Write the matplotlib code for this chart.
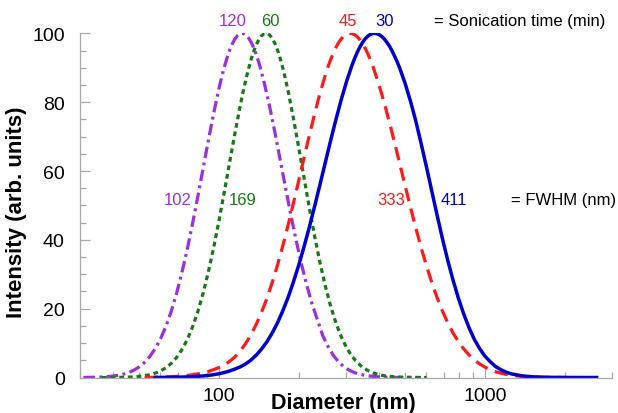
import matplotlib
matplotlib.use("Agg")
import matplotlib.pyplot as plt
from matplotlib.ticker import FixedLocator, LogLocator, NullFormatter, FuncFormatter, MultipleLocator

plt.rcParams['font.family'] = ['Liberation Sans', 'DejaVu Sans']

# ---- 120 min sonication (purple) ----
d_120 = [30.90, 31.62, 33.11, 34.67, 36.31, 38.02, 39.81, 41.69, 43.65, 45.71, 47.86, 50.12,
         52.48, 54.95, 57.54, 60.26, 63.10, 66.07, 69.18, 72.44, 75.86, 79.43,
         83.18, 87.10, 91.20, 95.50, 100.0,
         102.3, 104.7, 107.2, 109.6, 112.2, 114.8, 117.5, 120.2, 123.0, 125.9,
         128.8, 131.8, 134.9, 138.0, 141.3, 144.5, 147.9,
         154.9, 162.2, 169.8, 177.8, 186.2, 195.0, 204.2, 213.8, 223.9, 234.4,
         245.5, 257.0, 269.2, 281.8, 295.1, 309.0, 323.6, 338.8, 354.8, 371.5,
         389.0, 407.4, 426.6, 446.7, 467.7, 501.2, 575.4]
i_120 = [0.02, 0.03, 0.06, 0.10, 0.16, 0.26, 0.41, 0.63, 0.97, 1.45, 2.14, 3.10,
         4.39, 6.12, 8.37, 11.24, 14.81, 19.15, 24.34, 30.31, 37.08, 44.53,
         52.47, 60.70, 68.92, 76.80, 84.02,
         87.27, 90.22, 92.84, 95.09, 96.95, 98.38, 99.37, 99.90, 99.97, 99.60,
         98.78, 97.54, 95.88, 93.84, 91.43, 88.69, 85.64,
         78.81, 71.26, 63.28, 55.21, 47.32, 39.84, 32.95, 26.78, 21.37, 16.76,
         12.2, 9.0, 6.4, 4.5, 3.1, 2.1, 1.4, 0.95, 0.6, 0.4,
         0.25, 0.15, 0.1, 0.05, 0.03, 0.01, 0]

# ---- 60 min sonication (green) ----
d_60 = [36.31, 38.02, 39.81, 41.69, 43.65, 45.71, 47.86, 50.12, 52.48, 54.95, 57.54, 60.26,
        63.10, 66.07, 69.18, 72.44, 75.86, 79.43, 83.18, 87.10, 91.20, 95.50, 100.0,
        104.7, 109.6, 114.8, 120.2,
        123.0, 125.9, 128.8, 131.8, 134.9, 138.0, 141.3, 144.5, 147.9, 151.4, 154.9,
        158.5, 162.2, 166.0, 169.8, 173.8, 177.8, 182.0,
        190.5, 199.5, 208.9, 218.8, 229.1, 239.9, 251.2, 263.0, 275.4, 288.4, 302.0,
        316.2, 331.1, 346.7, 363.1, 380.2, 398.1, 416.9, 436.5, 457.1, 478.6, 501.2,
        524.8, 549.5, 602.6]
i_60 = [0.0, 0.01, 0.02, 0.04, 0.07, 0.12, 0.20, 0.33, 0.53, 0.83, 1.27, 1.91,
        2.82, 4.08, 5.78, 8.03, 10.93, 14.59, 19.07, 24.44, 30.70, 37.80, 45.61,
        53.92, 62.50, 71.00, 79.04,
        82.78, 86.25, 89.41, 92.23, 94.66, 96.67, 98.22, 99.30, 99.89, 99.97, 99.53,
        98.56, 97.09, 95.13, 92.71, 89.88, 86.67, 83.13,
        75.25, 66.70, 57.87, 49.14, 40.86, 33.25, 26.50, 20.66, 15.77, 11.79, 8.62,
        6.17, 4.33, 2.97, 2.00, 1.31, 0.84, 0.53, 0.33, 0.20, 0.12, 0.07,
        0.04, 0.02, 0]

# ---- 45 min sonication (red) ----
d_45 = [52.48, 54.95, 57.54, 60.26, 63.10, 66.07, 69.18, 72.44, 75.86, 79.43,
        83.18, 87.10, 91.20, 95.50, 100.0, 104.7, 109.6, 114.8, 120.2, 125.9,
        131.8, 138.0, 144.5, 151.4, 158.5, 166.0, 173.8, 182.0, 190.5, 199.5,
        208.9, 218.8, 229.1, 239.9, 251.2,
        257.0, 263.0, 269.2, 275.4, 281.8, 288.4, 295.1, 302.0, 309.0, 316.2,
        323.6, 331.1, 338.8, 346.7, 354.8, 363.1, 371.5, 380.2,
        398.1, 416.9, 436.5, 457.1, 478.6, 501.2, 524.8, 549.5, 575.4, 602.6,
        631.0, 660.7, 691.8, 724.4, 758.6, 794.3, 831.8, 871.0, 912.0, 955.0,
        1000, 1047, 1096, 1148, 1202, 1259, 1318, 1380, 1445, 1514, 1585, 1660,
        1778, 2042]
i_45 = [0.02, 0.04, 0.07, 0.11, 0.16, 0.23, 0.32, 0.45, 0.6, 0.8,
        1.05, 1.35, 1.75, 2.3, 2.9, 3.6, 4.7, 6.00, 7.73, 9.85,
        12.40, 15.43, 18.95, 23.01, 27.61, 32.73, 38.32, 44.35, 50.68, 57.26,
        63.91, 70.48, 76.79, 82.66, 87.92,
        90.27, 92.40, 94.29, 95.94, 97.32, 98.42, 99.24, 99.77, 99.99, 99.92,
        99.58, 98.98, 98.11, 96.98, 95.60, 93.99, 92.15, 90.11,
        85.45, 80.16, 74.38, 68.27, 61.98, 55.67, 49.45, 43.45, 37.77, 32.48,
        27.62, 23.24, 19.34, 15.92, 12.96, 10.44, 8.32, 6.56, 5.11, 3.94,
        3.01, 2.27, 1.69, 1.25, 0.91, 0.66, 0.47, 0.33, 0.23, 0.16, 0.11, 0.07,
        0.04, 0]

# ---- 30 min sonication (blue) ----
d_30 = [57.54, 60.26, 63.10, 66.07, 69.18, 72.44, 75.86, 79.43, 83.18, 87.10,
        91.20, 95.50, 100.0, 104.7, 109.6, 114.8, 120.2, 125.9, 131.8, 138.0,
        144.5, 151.4, 158.5, 166.0, 173.8, 182.0, 190.5, 199.5, 208.9, 218.8,
        229.1, 239.9, 251.2, 263.0, 275.4, 288.4, 302.0, 316.2,
        323.6, 331.1, 338.8, 346.7, 354.8, 363.1, 371.5, 380.2, 389.0, 398.1,
        407.4, 416.9, 426.6, 436.5, 446.7, 457.1, 467.7, 478.6,
        501.2, 524.8, 549.5, 575.4, 602.6, 631.0, 660.7, 691.8, 724.4, 758.6,
        794.3, 831.8, 871.0, 912.0, 955.0, 1000, 1047, 1096, 1148, 1202, 1259,
        1380, 1514, 1660, 1820, 1995, 2630]
i_30 = [0.02, 0.03, 0.04, 0.06, 0.09, 0.13, 0.18, 0.25, 0.34, 0.46,
        0.62, 0.83, 1.1, 1.45, 1.9, 2.45, 3.1, 3.95, 5.05, 6.50,
        8.27, 10.39, 12.94, 15.93, 19.40, 23.34, 27.78, 32.69, 38.06, 43.81,
        49.89, 56.18, 62.57, 68.91, 75.05, 80.84, 86.11, 90.71,
        92.72, 94.51, 96.06, 97.37, 98.43, 99.22, 99.74, 99.98, 99.95, 99.69,
        99.2, 98.5, 97.5, 96.4, 95.0, 93.4, 91.7, 89.8,
        85.4, 80.3, 74.5, 68.0, 61.2, 54.2, 47.2, 40.4, 34.1, 28.3,
        23.1, 18.5, 14.5, 11.1, 8.4, 6.2, 4.6, 3.2, 2.25, 1.55, 1.05,
        0.48, 0.2, 0.08, 0.04, 0.02, 0]

time_labels = ["120", "60", "45", "30"]
fwhm_labels = ["102", "169", "333", "411"]

c_purple = '#9A30DD'
c_green = '#167816'
c_red = '#FF1A1A'
c_blue = '#0000CC'

fig = plt.figure(figsize=(6.18, 4.14), dpi=100)
ax = fig.add_axes([0.1294, 0.0857, 0.8606, 0.8314])

lw = 2.3
ax.plot(d_120, i_120, color=c_purple, lw=lw, dashes=(3.6, 1.4, 0.9, 1.4))
ax.plot(d_60, i_60, color=c_green, lw=lw, dashes=(1.5, 1.2))
ax.plot(d_45, i_45, color=c_red, lw=lw, dashes=(4.2, 2.4))
ax.plot(d_30, i_30, color=c_blue, lw=lw + 0.2)

ax.set_xscale('log')
ax.set_xlim(30, 3000)
ax.set_ylim(0, 100)

gray = '#A8A8A8'
for s in ['top', 'right']:
    ax.spines[s].set_visible(False)
for s in ['left', 'bottom']:
    ax.spines[s].set_color(gray)
    ax.spines[s].set_linewidth(0.9)

ax.xaxis.set_major_locator(FixedLocator([100, 1000]))
ax.xaxis.set_major_formatter(FuncFormatter(lambda v, p: f"{int(round(v))}"))
ax.xaxis.set_minor_locator(LogLocator(base=10, subs=range(2, 10)))
ax.xaxis.set_minor_formatter(NullFormatter())
ax.yaxis.set_major_locator(MultipleLocator(20))
ax.yaxis.set_minor_locator(MultipleLocator(5))

ax.tick_params(which='both', direction='in', color=gray, width=0.9)
ax.tick_params(which='major', length=7, labelsize=14)
ax.tick_params(which='minor', length=4)
ax.tick_params(axis='y', which='major', pad=11)
ax.tick_params(axis='x', which='major', pad=7)

ax.set_ylabel("Intensity (arb. units)", fontsize=16, fontweight='bold')
ax.set_xlabel("Diameter (nm)", fontsize=15.5, fontweight='bold')
ax.yaxis.set_label_coords(-0.0996, 0.4837)
ax.xaxis.set_label_coords(0.496, -0.042)

tfs = 12
top_y = 103.6
mid_y = 51.6
time_x = [112.6, 155.5, 305, 419]
fwhm_x = [70, 123, 443, 763]
cols = [c_purple, c_green, c_red, c_blue]
for tx, lab, c in zip(time_x, time_labels, cols):
    ax.text(tx, top_y, lab, color=c, fontsize=tfs, ha='center', va='center', clip_on=False)
for fx, lab, c in zip(fwhm_x, fwhm_labels, cols):
    ax.text(fx, mid_y, lab, color=c, fontsize=tfs, ha='center', va='center', clip_on=False)
ax.text(643, top_y, "= Sonication time (min)", color='black', fontsize=tfs, ha='left', va='center', clip_on=False)
ax.text(1253, mid_y, "= FWHM (nm)", color='black', fontsize=tfs, ha='left', va='center', clip_on=False)

fig.savefig("out.png", dpi=100)
